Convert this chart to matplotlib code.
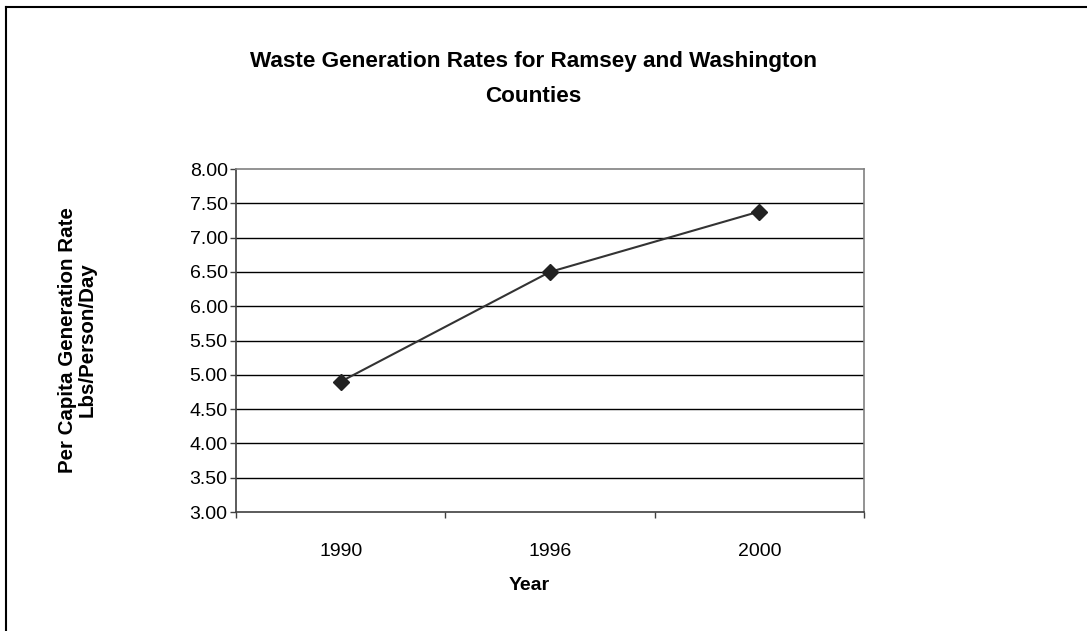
import matplotlib
matplotlib.use("Agg")
import matplotlib.pyplot as plt
from matplotlib.lines import Line2D

plt.rcParams['font.family'] = ['Liberation Sans', 'DejaVu Sans']

years = ["1990", "1996", "2000"]
rates = [4.90, 6.50, 7.38]
yticks = [3.00, 3.50, 4.00, 4.50, 5.00, 5.50, 6.00, 6.50, 7.00, 7.50, 8.00]

W, H = 1087, 631
fig = plt.figure(figsize=(W / 100, H / 100), dpi=100)

def fx(px):
    return px / W

def fy(py):
    return 1 - py / H

ax = fig.add_axes([fx(236), fy(512), fx(864) - fx(236), fy(169) - fy(512)])

x = list(range(len(years)))
ax.plot(x, rates, color='#333333', lw=1.5, marker='D', markersize=8,
        markerfacecolor='#222222', markeredgecolor='#222222', zorder=3)

ax.set_xlim(-0.5, len(years) - 0.5)
ax.set_ylim(yticks[0], yticks[-1])
ax.set_yticks(yticks)
ax.set_yticklabels([f"{v:.2f}" for v in yticks], fontsize=14)
for v in yticks[1:-1]:
    ax.axhline(v, color='black', lw=1.0, zorder=1)

ax.set_xticks([i - 0.5 for i in range(len(years) + 1)])
ax.set_xticklabels([])
ax.set_xticks(x, minor=True)
ax.set_xticklabels(years, minor=True, fontsize=14)
ax.tick_params(axis='x', which='minor', length=0, pad=22)
ax.tick_params(axis='x', which='major', direction='out', length=4.5, width=1, color='#404040')
ax.tick_params(axis='y', direction='out', length=4.5, width=1, color='#404040', pad=1.5)

for s in ['left', 'bottom']:
    ax.spines[s].set_color('#404040')
    ax.spines[s].set_linewidth(1.2)
for s in ['top', 'right']:
    ax.spines[s].set_color('#808080')
    ax.spines[s].set_linewidth(1.2)

fig.text(fx(533), fy(79), "Waste Generation Rates for Ramsey and Washington\nCounties",
         ha='center', va='center', fontsize=16.2, fontweight='bold', linespacing=1.9)
fig.text(fx(77), fy(340), "Per Capita Generation Rate\nLbs/Person/Day", rotation=90,
         ha='center', va='center', fontsize=14.8, fontweight='bold', linespacing=1.05)
fig.text(fx(529), fy(586), "Year", ha='center', va='center', fontsize=14, fontweight='bold')

# outer chart border (top and left edges visible)
fig.add_artist(Line2D([fx(5.5), fx(1087)], [fy(6.5), fy(6.5)], color='black', lw=1.5,
                      transform=fig.transFigure))
fig.add_artist(Line2D([fx(5.5), fx(5.5)], [fy(6.5), 0], color='black', lw=1.5,
                      transform=fig.transFigure))

fig.savefig("out.png", dpi=100)
